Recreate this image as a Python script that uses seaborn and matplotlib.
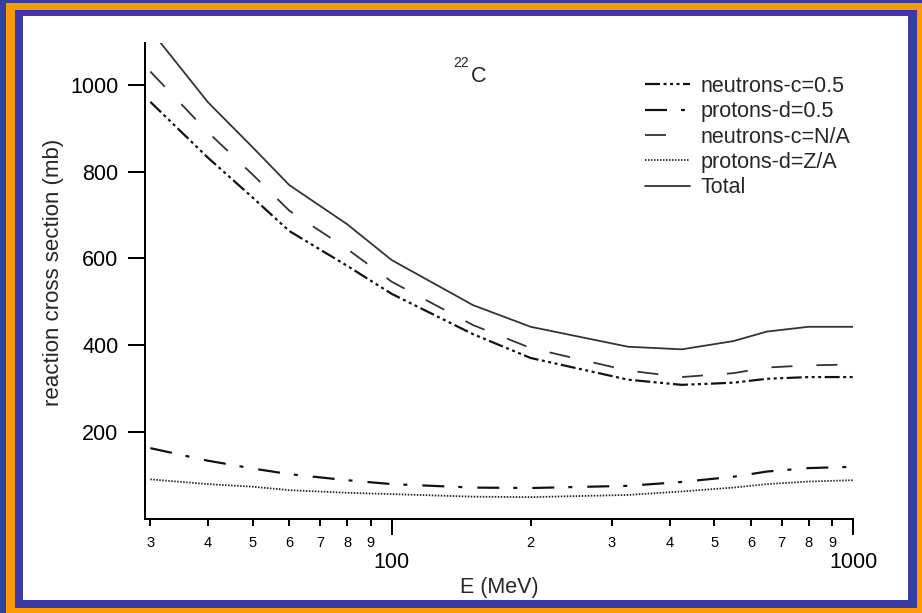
import matplotlib
matplotlib.use('Agg')
import matplotlib.pyplot as plt
import seaborn as sns
from matplotlib.patches import Rectangle
from matplotlib.ticker import FixedLocator, FixedFormatter

# ---------------- data ----------------
energy_mev = [30, 40, 50, 60, 80, 100, 150, 200, 325, 425, 550, 650, 800, 1000]
neutrons_c05 = [961, 832, 740, 663, 583, 518, 425, 370, 320, 308, 313, 322, 326, 326]
protons_d05 = [162, 133, 115, 102, 88, 79, 71, 70, 75, 84, 96, 108, 116, 119]
neutrons_cNA = [1031, 891, 793, 710, 622, 546, 446, 393, 341, 326, 335, 348, 353, 355]
protons_dZA = [90, 79, 73, 65, 59, 56, 50, 49, 54, 62, 71, 79, 85, 88]
total = [1127, 960, 856, 769, 679, 596, 492, 442, 396, 390, 409, 431, 442, 442]

series_labels = ['neutrons-c=0.5', 'protons-d=0.5', 'neutrons-c=N/A', 'protons-d=Z/A', 'Total']
y_ticks = [200, 400, 600, 800, 1000]
x_major_ticks = [100, 1000]
x_major_labels = ['100', '1000']
x_minor_ticks = [30, 40, 50, 60, 70, 80, 90, 200, 300, 400, 500, 600, 700, 800, 900]
x_minor_labels = ['3', '4', '5', '6', '7', '8', '9', '2', '3', '4', '5', '6', '7', '8', '9']

# ---------------- style ----------------
sns.set_style('ticks')
plt.rcParams['font.family'] = ['Liberation Sans', 'DejaVu Sans']
plt.rcParams['lines.scale_dashes'] = False

W, H = 922, 613
PX = 0.72  # points per pixel at dpi 100
BLUE = '#3a3aa8'
ORANGE = '#ff9900'

fig = plt.figure(figsize=(W / 100, H / 100), dpi=100)
fig.patch.set_facecolor(BLUE)


def frame_rect(x0, y0, x1, y1, color):
    fig.add_artist(Rectangle((x0 / W, 1 - y1 / H), (x1 - x0) / W, (y1 - y0) / H,
                             transform=fig.transFigure, facecolor=color,
                             edgecolor='none', zorder=-10))


frame_rect(6, 3, 930, 620, ORANGE)
frame_rect(15, 10, 917, 608, BLUE)
frame_rect(23, 16, 908, 600, 'white')

ax_l, ax_r, ax_t, ax_b = 145, 853.3, 42.7, 519
ax = fig.add_axes([ax_l / W, 1 - ax_b / H, (ax_r - ax_l) / W, (ax_b - ax_t) / H])
ax.set_facecolor('white')

styles = [
    (neutrons_c05, '#111111', 2.2, (0, tuple(v * PX for v in (15, 3.5, 3, 3.5, 3, 3.5, 3, 3.5)))),
    (protons_d05, '#111111', 2.2, (0, tuple(v * PX for v in (22, 14, 4, 15)))),
    (neutrons_cNA, '#333333', 1.8, (0, tuple(v * PX for v in (21, 24)))),
    (protons_dZA, '#222222', 1.8, (0, tuple(v * PX for v in (1.5, 1.5)))),
    (total, '#333333', 1.8, '-'),
]

handles = []
for (vals, color, lw, ls), lab in zip(styles, series_labels):
    sns.lineplot(x=energy_mev, y=vals, ax=ax, color=color, linewidth=lw * PX,
                 linestyle=ls, legend=False)
    line = ax.get_lines()[-1]
    line.set_label(lab)
    handles.append(line)

ax.set_xscale('log')
ax.set_xlim(10 ** 1.4656, 1000)
ax.set_ylim(-1.5, 1097.5)
ax.set_xlabel('')
ax.set_ylabel('')

ax.set_xticks(x_major_ticks)
ax.set_xticklabels(x_major_labels)
ax.xaxis.set_minor_locator(FixedLocator(x_minor_ticks))
ax.xaxis.set_minor_formatter(FixedFormatter(x_minor_labels))
ax.set_yticks(y_ticks)
ax.set_yticklabels([str(v) for v in y_ticks])

ax.tick_params(axis='x', which='major', length=16 * PX, width=2 * PX, labelsize=15.5,
               pad=12, color='black', labelcolor='black', direction='out')
ax.tick_params(axis='x', which='minor', length=7 * PX, width=2 * PX, labelsize=10.5,
               pad=7, color='black', labelcolor='black', direction='out')
ax.tick_params(axis='y', which='major', length=16.7 * PX, width=2 * PX, labelsize=15.5,
               pad=7, color='black', labelcolor='black', direction='out')
ax.tick_params(axis='y', which='minor', left=False)

sns.despine(ax=ax)
for s in ('left', 'bottom'):
    ax.spines[s].set_linewidth(2 * PX)
    ax.spines[s].set_color('black')

ax.legend(handles, series_labels, loc='upper left',
          bbox_to_anchor=(645 / W, 1 - 76 / H), bbox_transform=fig.transFigure,
          frameon=False, fontsize=15.5, handlelength=45 / 21.5,
          handletextpad=10 / 21.5, labelspacing=0.2, borderpad=0, borderaxespad=0)

fig.text(479 / W, 1 - 76 / H, 'C', ha='center', va='center', fontsize=15.5)
fig.text(461 / W, 1 - 63 / H, '22', ha='center', va='center', fontsize=10)
fig.text(499 / W, 1 - 588 / H, 'E (MeV)', ha='center', va='center', fontsize=15.5)
fig.text(54 / W, 1 - 272 / H, 'reaction cross section (mb)', rotation=90,
         ha='center', va='center', fontsize=16)

fig.savefig('out.png', dpi=100, facecolor=fig.get_facecolor())
